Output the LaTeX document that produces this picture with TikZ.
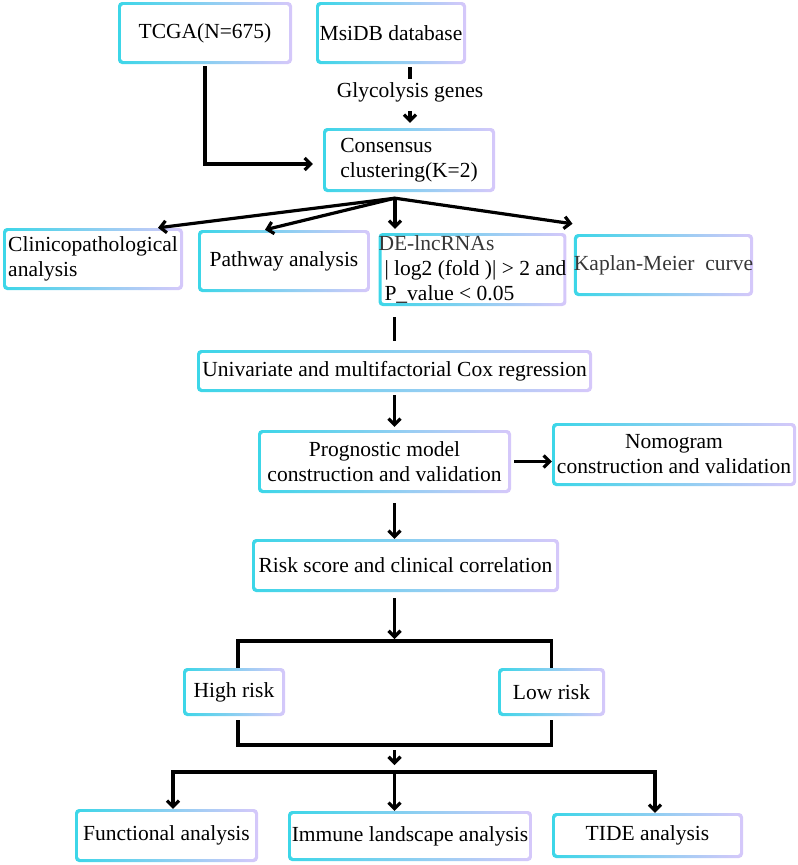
\documentclass[tikz,border=0pt]{standalone}
\usepackage{fontspec}
\setmainfont{Liberation Serif}
\usetikzlibrary{arrows.meta,calc}
\definecolor{bc1}{RGB}{60,214,232}
\definecolor{bc2}{RGB}{214,200,250}
\definecolor{dgray}{RGB}{55,55,55}
\begin{document}
\begin{tikzpicture}[x=1pt,y=-1pt,
  gbox/.style={rounded corners=4pt, inner sep=0pt, align=center,
    font=\fontsize{21.5}{25}\selectfont,
    path picture={
      \shade[left color=bc1, right color=bc2]
        (path picture bounding box.south west) rectangle (path picture bounding box.north east);
      \fill[white, rounded corners=2pt]
        ([shift={(3.2pt,3.2pt)}]path picture bounding box.south west) rectangle
        ([shift={(-3.2pt,-3.2pt)}]path picture bounding box.north east);
    }},
  lbl/.style={inner sep=1pt, font=\fontsize{21.5}{25}\selectfont},
  ln/.style={line width=3.2pt, black},
  arr/.style={ln, -{Straight Barb[length=6pt,width=12pt]}}
]
\useasboundingbox (0,0) rectangle (798,865);

% top
\node[gbox, minimum width=174, minimum height=62] (tcga) at (205,33) {TCGA(N=675)};
\node[gbox, minimum width=150, minimum height=62] (msidb) at (391,33) {MsiDB database};
\node[lbl] (glyco) at (410,92) {Glycolysis genes};
\node[gbox, minimum width=172, minimum height=64, align=left] (cons) at (409,160) {Consensus\\clustering(K=2)};

% row 2
\node[gbox, minimum width=180, minimum height=62, align=left] (clin) at (93,259) {Clinicopathological\\analysis};
\node[gbox, minimum width=172, minimum height=62] (path) at (284,261) {Pathway analysis};
\node[gbox, minimum width=187, minimum height=73, align=left] (de) at (472.5,269.5)
  {\textcolor{dgray}{DE-lncRNAs}\\\hspace*{6pt}| log2 (fold )| > 2 and\\\hspace*{6pt}P\_value < 0.05};
\node[gbox, minimum width=179, minimum height=62] (km) at (663.5,265) {\textcolor{dgray}{Kaplan-Meier\ \ curve}};

% middle
\node[gbox, minimum width=395, minimum height=42] (uni) at (394.5,371) {Univariate and multifactorial Cox regression};
\node[gbox, minimum width=253, minimum height=63] (prog) at (384.5,461.5) {Prognostic model\\construction and validation};
\node[gbox, minimum width=244, minimum height=63] (nomo) at (674,454.5) {Nomogram\\construction and validation};
\node[gbox, minimum width=307, minimum height=53] (risk) at (405.5,565.5) {Risk score and clinical correlation};
\node[gbox, minimum width=102, minimum height=48] (high) at (234,692) {High risk};
\node[gbox, minimum width=107, minimum height=48] (low) at (551.5,692) {Low risk};

% bottom
\node[gbox, minimum width=183, minimum height=53] (func) at (166.5,835.5) {Functional analysis};
\node[gbox, minimum width=244, minimum height=50] (imm) at (410,836) {Immune landscape analysis};
\node[gbox, minimum width=191, minimum height=45] (tide) at (647.5,835.5) {TIDE analysis};

% coordinates
\coordinate (fan) at ($(cons.south)+(-14,6)$);
\coordinate (tb) at (394.5,641);
\coordinate (bb) at (394.5,745);
\coordinate (b2) at (394.5,772);

% connectors top
\draw[ln] ([yshift=-3pt]msidb.south -| glyco.north) -- ([yshift=2pt]glyco.north);
\draw[arr, shorten >=5pt] ([yshift=-8pt]glyco.south) -- (glyco.south |- cons.north);
\draw[arr] ([yshift=-2pt]tcga.south) |- ([shift={(-10pt,-4pt)}]cons.west);

% fan
\draw[arr] (fan) -- ([xshift=65pt]clin.north);
\draw[arr] (fan) -- ([xshift=-19pt]path.north);
\draw[arr, shorten >=4pt] (fan) -- (fan |- de.north);
\draw[arr] (fan) -- ([shift={(-91pt,10pt)}]km.north);

% middle connectors
\draw[ln] ([yshift=-11pt]de.south -| uni.north) -- ([yshift=9pt]uni.north);
\draw[arr, shorten >=3pt] ([yshift=-3pt]uni.south) -- (uni.south |- prog.north);
\draw[arr] ([xshift=3pt]prog.east) -- (nomo.west |- prog.east);
\draw[arr] ([yshift=-10pt]prog.south -| uni.south) -- (uni.south |- risk.north);
\draw[arr, shorten >=2pt] ([yshift=-6pt]risk.south -| tb) -- (tb);

% brackets
\draw[ln] ([xshift=4pt]high.north) |- (tb) -| (low.north);
\draw[ln] ([shift={(4pt,-4pt)}]high.south) |- (bb) -| ([yshift=-4pt]low.south);
\draw[arr] ([yshift=-5pt]bb) -- ([yshift=7pt]b2);
\draw[arr] (b2) -| ([xshift=6.5pt]func.north);
\draw[arr] (b2) -- (b2 |- imm.north);
\draw[arr] (b2) -| ([xshift=7.5pt]tide.north);
\end{tikzpicture}
\end{document}
